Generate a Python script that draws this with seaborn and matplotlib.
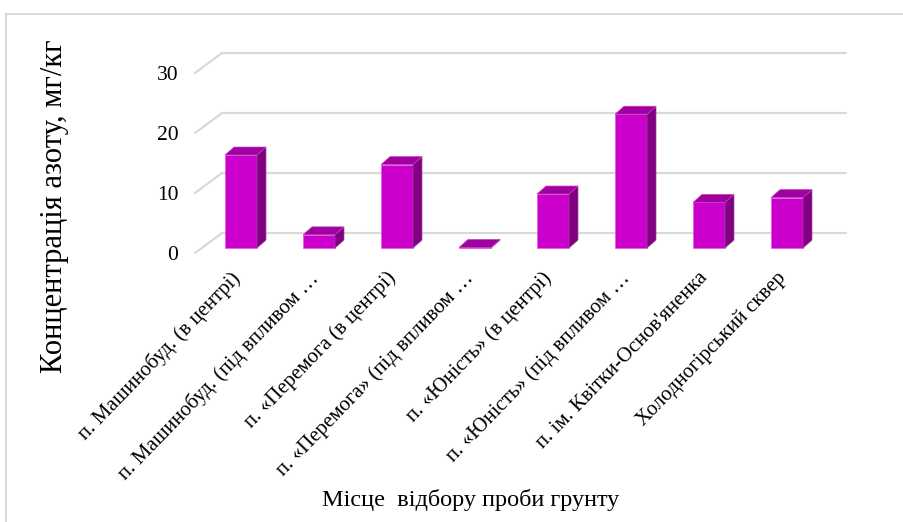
import matplotlib
matplotlib.use("Agg")
import matplotlib.pyplot as plt
import seaborn as sns
from matplotlib.patches import Polygon, Rectangle

sites = [
    "п. Машинобуд. (в центрі)",
    "п. Машинобуд. (під впливом …",
    "п. «Перемога (в центрі)",
    "п. «Перемога» (під впливом …",
    "п. «Юність» (в центрі)",
    "п. «Юність» (під впливом …",
    "п. ім. Квітки-Основ'яненка",
    "Холодногірський сквер",
]
nitrogen = [15.5, 2.2, 13.9, 0.1, 9.0, 22.3, 7.6, 8.4]
yticks = [0, 10, 20, 30]

sns.set_theme(style="white")
plt.rcParams["font.family"] = ["Liberation Serif", "DejaVu Serif"]

W, H = 904, 522
fig = plt.figure(figsize=(W / 100, H / 100), dpi=100)
# axes covers front-left corner of the floor to back-right top of the wall
ax = fig.add_axes([195 / W, 1 - 253 / H, (846 - 195) / W, 200 / H])

# chart-area border
fig.patches.append(Rectangle((6 / W, -0.1), 1.2, 1 - 14 / H + 0.1, transform=fig.transFigure,
                             fill=False, edgecolor="#D9D9D9", linewidth=1.5))

wall_dx, wall_dy = 0.346, 3.33   # depth of the plot box (cat units, value units)
bar_dx, bar_dy = 0.115, 1.33     # depth of a bar
front_dx, front_dy = 0.09, 0.83  # bars sit a little behind the front plane
n = len(sites)

# gridlines on the back wall with the slanted side edge
for v in yticks:
    ax.plot([-0.5, -0.5 + wall_dx, n - 0.5 + wall_dx], [v, v + wall_dy, v + wall_dy],
            color="#D9D9D9", linewidth=1.6, zorder=1, clip_on=False)

sns.barplot(x=sites, y=nitrogen, width=0.41, color="#CC00CC", saturation=1,
            edgecolor="#E060E0", linewidth=0.6, ax=ax, zorder=3)

for p in ax.patches:
    p.set_x(p.get_x() + front_dx)
    p.set_y(front_dy)
    x0, x1 = p.get_x(), p.get_x() + p.get_width()
    y0, y1 = front_dy, front_dy + p.get_height()
    side = Polygon([(x1, y0), (x1 + bar_dx, y0 + bar_dy), (x1 + bar_dx, y1 + bar_dy), (x1, y1)],
                   closed=True, facecolor="#800080", edgecolor="#A040A0", linewidth=0.5, zorder=3)
    top = Polygon([(x0, y1), (x0 + bar_dx, y1 + bar_dy), (x1 + bar_dx, y1 + bar_dy), (x1, y1)],
                  closed=True, facecolor="#A000A0", edgecolor="#C040C0", linewidth=0.5, zorder=3)
    ax.add_patch(side)
    ax.add_patch(top)

ax.set_xlim(-0.5, n - 0.5 + wall_dx)
ax.set_ylim(0, yticks[-1] + wall_dy)

for s in ax.spines.values():
    s.set_visible(False)

ax.set_yticks(yticks)
ax.set_yticklabels([str(v) for v in yticks], fontsize=15.5, color="#000000")
ax.tick_params(axis="y", length=0, pad=12)

ax.set_xticks([i - 0.05 for i in range(n)])
ax.set_xticklabels(sites, rotation=46, ha="right", va="top", rotation_mode="anchor",
                   fontsize=15, color="#000000")
ax.tick_params(axis="x", length=0, pad=11)
ax.set_xlabel("")
ax.set_ylabel("")

fig.text(55 / W, 1 - 206 / H, "Концентрація азоту, мг/кг", rotation=90,
         ha="center", va="center", fontsize=22, color="#000000")
fig.text(471 / W, 1 - 500 / H, "Місце  відбору проби грунту",
         ha="center", va="center", fontsize=17.5, color="#000000")

fig.savefig("out.png", dpi=100)
